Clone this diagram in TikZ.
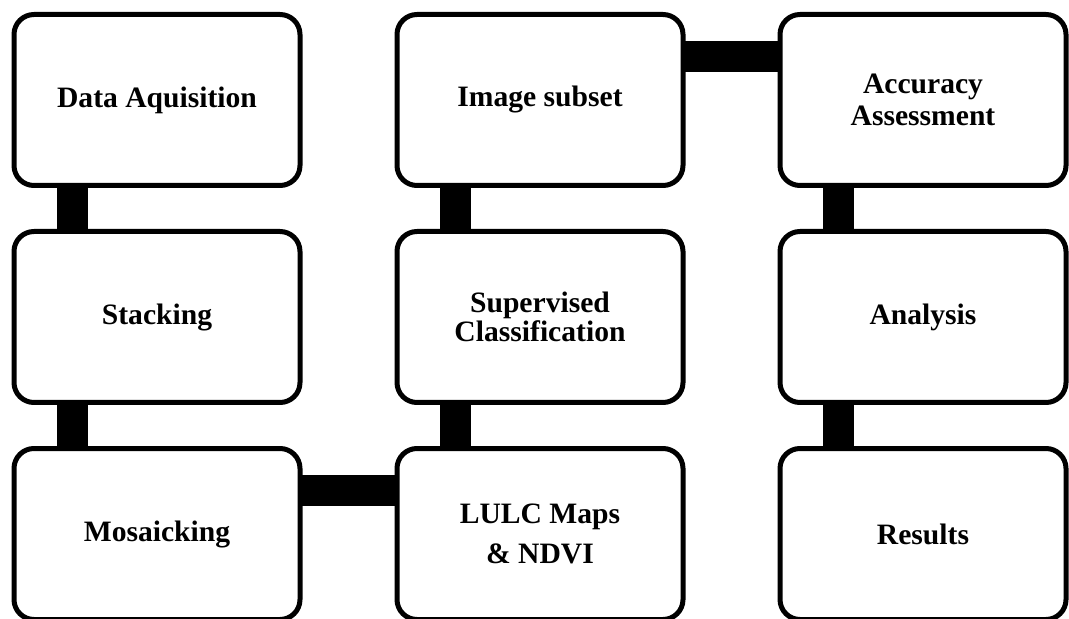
\documentclass[tikz,border=0pt]{standalone}
\usepackage{fontspec}
\setmainfont{Liberation Serif}
\usetikzlibrary{positioning}

\begin{document}
\begin{tikzpicture}[node distance={20.5pt and 46pt}, line width=2.5pt, main/.style = {draw, rounded corners=10pt, minimum width=143pt, minimum height=85.5pt, align=center, font=\bfseries\fontsize{14.8}{14.5}\selectfont}, bar/.style = {line width=15.5pt, shorten <=-1pt, shorten >=-1pt}]
		\useasboundingbox (0,0) rectangle (534.5pt,-309.5pt);
		\node[main] (DA) at (78.5pt,-50pt) {Data Aquisition};
		\node[main] (ST) [below=of DA] {Stacking};
		\node[main] (MO) [below=of ST] {Mosaicking};
		\node[main] (LU) [right=of MO] {LULC Maps\\[5.5pt]\& NDVI};
		\node[main] (SC) [above=of LU] {Supervised\\Classification};
		\node[main] (IS) [above=of SC] {Image subset};
		\node[main] (AA) [right=of IS] {Accuracy\\[1.5pt]Assessment};
		\node[main] (AN) [below=of AA] {Analysis};
		\node[main] (RE) [below=of AN] {Results};
		
		\draw[bar] ([xshift=-42.5pt]DA.south) -- ([xshift=-42.5pt]ST.north);
		\draw[bar] ([xshift=-42.5pt]ST.south) -- ([xshift=-42.5pt]MO.north);
		\draw[bar] ([yshift=22pt]MO.east) -- ([yshift=22pt]LU.west);
		\draw[bar] ([xshift=-42.5pt]LU.north) -- ([xshift=-42.5pt]SC.south);
		\draw[bar] ([xshift=-42.5pt]SC.north) -- ([xshift=-42.5pt]IS.south);
		\draw[bar] ([yshift=21.5pt]IS.east) -- ([yshift=21.5pt]AA.west);
		\draw[bar] ([xshift=-42.5pt]AA.south) -- ([xshift=-42.5pt]AN.north);
		\draw[bar] ([xshift=-42.5pt]AN.south) -- ([xshift=-42.5pt]RE.north);
	\end{tikzpicture}
\end{document}
